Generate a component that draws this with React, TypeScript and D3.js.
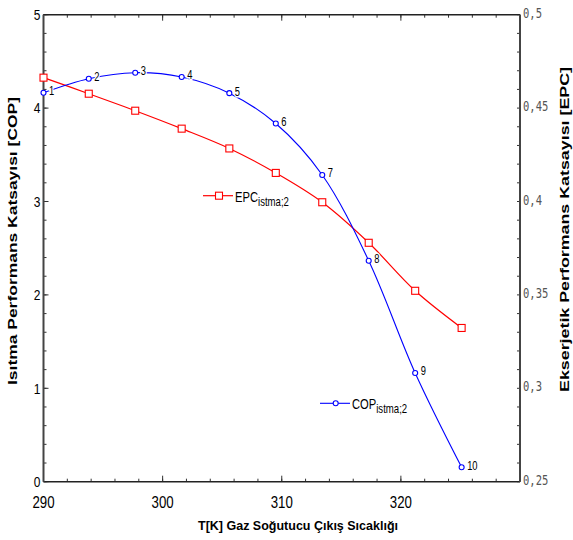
import React from "react";
import * as d3 from "d3";

const temps = [290, 293.8, 297.7, 301.6, 305.6, 309.5, 313.4, 317.3, 321.2, 325.1];
const copValues = [4.165, 4.315, 4.379, 4.333, 4.16, 3.835, 3.284, 2.366, 1.164, 0.154];
const epcValues = [0.4663, 0.4577, 0.4486, 0.439, 0.4284, 0.4153, 0.3996, 0.3779, 0.3522, 0.3323];
const pointLabels = ["1", "2", "3", "4", "5", "6", "7", "8", "9", "10"];
const xTickLabels = [290, 300, 310, 320];
const leftTicks = [0, 1, 2, 3, 4, 5];
const rightTicks = [0.25, 0.3, 0.35, 0.4, 0.45, 0.5];
const rightTickLabels = ["0,25", "0,3", "0,35", "0,4", "0,45", "0,5"];

const W = 573, H = 540;
const L = 43.5, R = 520, T = 14.7, B = 481.7;

const x = d3.scaleLinear().domain([290, 330]).range([L, R]);
const yL = d3.scaleLinear().domain([0, 5]).range([B, T]);
const yR = d3.scaleLinear().domain([0.25, 0.5]).range([B, T]);

function SText({ x, y, sx = 1, anchor = "start", size, family = "'Liberation Sans', Arial, sans-serif", fill = "#000", weight = "normal", children }: any) {
  return (
    <text transform={`translate(${x},${y}) scale(${sx},1)`} textAnchor={anchor} fontSize={size} fontFamily={family} fill={fill} fontWeight={weight}>
      {children}
    </text>
  );
}

export default function App() {
  const line = (vals: number[], ys: any) =>
    d3.line<number>().x((_, i) => x(temps[i])).y((v) => ys(v)).curve(d3.curveCatmullRom.alpha(0.5))(vals) as string;

  const xMinor = d3.range(290, 330.01, 2);
  const xMajor = d3.range(290, 330.01, 10);
  const lMinor = d3.range(0, 5.001, 0.2);
  const rMinor = d3.range(0.25, 0.5001, 0.01);

  return (
    <svg width={W} height={H} style={{ position: "absolute", left: 0, top: 0, background: "#fff" }}>
      <rect width={W} height={H} fill="#fff" />
      {/* ticks */}
      <g stroke="#333" strokeWidth={1}>
        {xMinor.map((v, i) => (
          <g key={"xm" + i}>
            <line x1={x(v)} x2={x(v)} y1={B} y2={B - 3} />
            <line x1={x(v)} x2={x(v)} y1={T} y2={T + 3} />
          </g>
        ))}
        {xMajor.map((v, i) => (
          <g key={"xM" + i}>
            <line x1={x(v)} x2={x(v)} y1={B} y2={B - 6} />
            <line x1={x(v)} x2={x(v)} y1={T} y2={T + 6} />
          </g>
        ))}
        {lMinor.map((v, i) => (
          <line key={"lm" + i} x1={L} x2={L + 3} y1={yL(v)} y2={yL(v)} />
        ))}
        {leftTicks.map((v, i) => (
          <line key={"lM" + i} x1={L} x2={L + 5} y1={yL(v)} y2={yL(v)} />
        ))}
        {rMinor.map((v, i) => (
          <line key={"rm" + i} x1={R} x2={R - 3} y1={yR(v)} y2={yR(v)} />
        ))}
      </g>
      {/* frame */}
      <g stroke="#222" strokeWidth={1.6} fill="none">
        <line x1={L} x2={R} y1={T} y2={T} />
        <line x1={L} x2={R} y1={B} y2={B} />
        <line x1={L} x2={L} y1={T} y2={B} stroke="#444" strokeWidth={2} />
        <line x1={R} x2={R} y1={T} y2={B} stroke="#444" strokeWidth={2} />
      </g>
      {/* tick labels */}
      {xTickLabels.map((v) => (
        <SText key={"xl" + v} x={x(v)} y={508} sx={0.78} anchor="middle" size={17}>{v}</SText>
      ))}
      {leftTicks.map((v) => (
        <SText key={"yl" + v} x={40.5} y={yL(v) + 5.3} sx={0.8} anchor="end" size={15}>{v}</SText>
      ))}
      {rightTicks.map((v, i) => (
        <SText key={"yr" + v} x={523} y={yR(v) + 3} sx={0.75} size={14} family="'DejaVu Sans Mono', monospace" fill="#555">{rightTickLabels[i]}</SText>
      ))}
      {/* axis titles */}
      <text transform={`translate(16.5,241) rotate(-90)`} textAnchor="middle" fontSize={13} fontWeight="bold" fontFamily="'Liberation Sans', Arial, sans-serif" textLength={288} lengthAdjust="spacingAndGlyphs">
        Isıtma Performans Katsayısı [COP]
      </text>
      <text transform={`translate(569,229.5) rotate(-90)`} textAnchor="middle" fontSize={13} fontWeight="bold" fontFamily="'Liberation Sans', Arial, sans-serif" textLength={325} lengthAdjust="spacingAndGlyphs">
        Ekserjetik Performans Katsayısı [EPC]
      </text>
      <text x={298} y={530} textAnchor="middle" fontSize={13} fontWeight="bold" fontFamily="'Liberation Sans', Arial, sans-serif" textLength={200} lengthAdjust="spacingAndGlyphs">
        T[K] Gaz Soğutucu Çıkış Sıcaklığı
      </text>
      {/* series */}
      <path d={line(epcValues, yR)} fill="none" stroke="#ff0000" strokeWidth={1.2} />
      <path d={line(copValues, yL)} fill="none" stroke="#0000ff" strokeWidth={1.1} />
      {epcValues.map((v, i) => (
        <rect key={"e" + i} x={x(temps[i]) - 3.5} y={yR(v) - 3.5} width={7} height={7} fill="#fff" stroke="#ff0000" strokeWidth={1.1} />
      ))}
      {copValues.map((v, i) => (
        <circle key={"c" + i} cx={x(temps[i])} cy={yL(v)} r={2.5} fill="#fff" stroke="#0000ff" strokeWidth={1.1} />
      ))}
      {copValues.map((v, i) => (
        <text key={"pl" + i} transform={`translate(${x(temps[i]) + 5.5},${yL(v) + 2.5}) scale(0.72,1)`} fontSize={13} fontFamily="'Liberation Sans', Arial, sans-serif" stroke="#fff" strokeWidth={3} paintOrder="stroke" fill="#000">
          {pointLabels[i]}
        </text>
      ))}
      {/* legends */}
      <g>
        <line x1={203} x2={233} y1={195.7} y2={195.7} stroke="#ff0000" strokeWidth={1.2} />
        <rect x={219 - 3.5} y={195.7 - 3.5} width={7} height={7} fill="#fff" stroke="#ff0000" strokeWidth={1.1} />
        <text transform="translate(235,202) scale(0.8,1)" fontSize={14} fontFamily="'Liberation Sans', Arial, sans-serif">
          EPC<tspan fontSize={12} dy={4}>istma;2</tspan>
        </text>
      </g>
      <g>
        <line x1={320} x2={350} y1={403.3} y2={403.3} stroke="#0000ff" strokeWidth={1.1} />
        <circle cx={335.7} cy={403.3} r={2.5} fill="#fff" stroke="#0000ff" strokeWidth={1.1} />
        <text transform="translate(352,409) scale(0.8,1)" fontSize={14} fontFamily="'Liberation Sans', Arial, sans-serif">
          COP<tspan fontSize={12} dy={4}>istma;2</tspan>
        </text>
      </g>
    </svg>
  );
}
